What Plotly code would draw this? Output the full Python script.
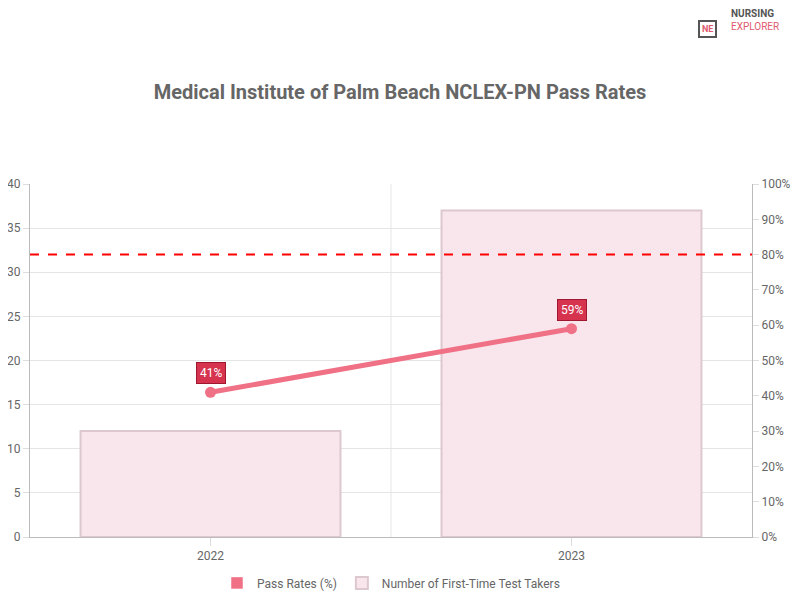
import plotly.graph_objects as go

years = ["2022", "2023"]
test_takers = [12, 37]
pass_rates = [41, 59]
benchmark = 80

xpos = list(range(len(years)))

fig = go.Figure()
fig.add_trace(go.Bar(
    x=xpos, y=test_takers, name="Number of First-Time Test Takers",
    marker=dict(color="#f8e6ec", line=dict(color="#dcc8ce", width=2)),
    width=0.72, yaxis="y", legendrank=2,
))
fig.add_trace(go.Scatter(
    x=xpos, y=pass_rates, name="Pass Rates (%)", yaxis="y2",
    mode="lines+markers", line=dict(color="#f07085", width=5),
    marker=dict(color="#f07085", size=11), showlegend=False,
))
# legend swatch for the line series (box style like reference)
fig.add_trace(go.Bar(x=[0], y=[None], name="Pass Rates (%)",
                     marker=dict(color="#f07085"), legendrank=1))
for i, v in zip(xpos, pass_rates):
    fig.add_annotation(x=i, y=v, yref="y2", text=f"{v}%", showarrow=False,
                       yshift=19, bgcolor="#d6334f", bordercolor="#a01830",
                       borderwidth=1, borderpad=3, font=dict(color="white", size=12))

fig.add_shape(type="line", xref="paper", x0=0, x1=1, yref="y2", y0=benchmark, y1=benchmark,
              line=dict(color="red", width=2, dash="dash"))

# logo
fig.add_annotation(xref="paper", yref="paper", x=0.952, y=1.465, text="<b>NE</b>",
                   showarrow=False, font=dict(color="#e05a6e", size=9),
                   bordercolor="#555", borderwidth=2, borderpad=2)
fig.add_annotation(xref="paper", yref="paper", x=0.968, y=1.465, xanchor="left", yanchor="middle",
                   text="<b>NURSING</b><br><span style='color:#e05a6e'>EXPLORER</span>",
                   showarrow=False, align="left",
                   font=dict(color="#555", size=10, family="Roboto"))

fig.update_layout(
    width=784, height=584, template="plotly_white",
    paper_bgcolor="white", plot_bgcolor="white",
    font=dict(family="Roboto, Arial", color="#666", size=12),
    title=dict(text="<b>Medical Institute of Palm Beach NCLEX-PN Pass Rates</b>",
               x=0.5, y=0.856, yanchor="middle", xanchor="center", font=dict(size=20, color="#666")),
    margin=dict(l=22, r=40, t=176, b=55, autoexpand=False),
    xaxis=dict(range=[-0.5, 1.5], tickvals=xpos, ticktext=years,
               showgrid=False, showline=True, linecolor="#bbb",
               ticks="outside", ticklen=8, tickcolor="#ddd", automargin=False, zeroline=False),
    yaxis=dict(range=[0, 40], dtick=5, gridcolor="#e5e5e5", showline=True, linecolor="#bbb",
               ticks="outside", ticklen=6, tickcolor="#ddd", zeroline=False, automargin=False),
    yaxis2=dict(range=[0, 100], dtick=10, ticksuffix="%", overlaying="y", side="right",
                showgrid=False, showline=True, linecolor="#bbb", ticks="outside",
                ticklen=6, tickcolor="#ddd", zeroline=False, automargin=False),
    barmode="overlay",
    legend=dict(orientation="h", x=0.5, xanchor="center", y=-0.13, yanchor="middle",
                font=dict(size=12, color="#666")),
)
fig.add_shape(type="line", xref="x", yref="paper", x0=0.5, x1=0.5, y0=0, y1=1,
              line=dict(color="#e5e5e5", width=1, dash="solid"), layer="below")
fig.write_html("out.html")
